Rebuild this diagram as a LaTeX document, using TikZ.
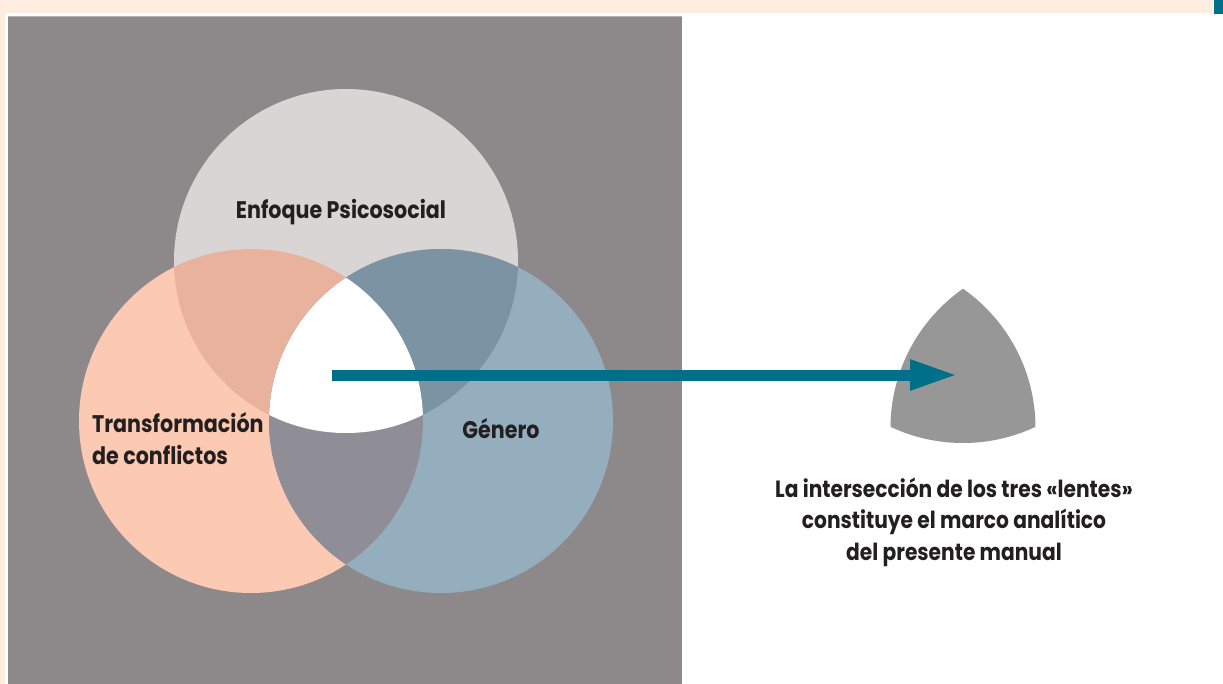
\documentclass[tikz,border=0pt]{standalone}
\usepackage{fontspec}
\setmainfont{Poppins}[FakeStretch=0.86]
\usetikzlibrary{arrows.meta}
\definecolor{bg}{HTML}{8D898A}
\definecolor{peach}{HTML}{FFEDDF}
\definecolor{tealc}{HTML}{006F8A}
\definecolor{ctop}{HTML}{D8D5D4}
\definecolor{cleft}{HTML}{FCCAB3}
\definecolor{cright}{HTML}{95AEBE}
\definecolor{ctl}{HTML}{E8B29D}
\definecolor{ctr}{HTML}{7B93A3}
\definecolor{clr}{HTML}{8F8E96}
\definecolor{shapeg}{HTML}{979797}
\definecolor{ink}{HTML}{231F20}
\begin{document}
\begin{tikzpicture}[x=1pt,y=-1pt,
  lab/.style={font=\bfseries\fontsize{24}{28}\selectfont, text=ink, inner sep=0pt},
  captxt/.style={font=\bfseries\fontsize{23.5}{28}\selectfont, text=ink, inner sep=0pt}]
\useasboundingbox (0,0) rectangle (1223,684);
% page decoration
\fill[peach] (0,0) rectangle (1214,13);
\fill[peach] (0,0) rectangle (5,684);
\fill[tealc] (1214,0) rectangle (1223,14);
\fill[bg] (8,16) rectangle (682,684);
\draw[black!30, line width=1pt] (8,16.5) -- (682,16.5);
% circle centres
\coordinate (T) at (346,261);
\coordinate (L) at (251,421);
\coordinate (R) at (441,421);
\fill[ctop] (T) circle[radius=172pt];
\fill[cleft] (L) circle[radius=172pt];
\fill[cright] (R) circle[radius=172pt];
\begin{scope}\clip (T) circle[radius=172pt]; \fill[ctl] (L) circle[radius=172pt];\end{scope}
\begin{scope}\clip (T) circle[radius=172pt]; \fill[ctr] (R) circle[radius=172pt];\end{scope}
\begin{scope}\clip (L) circle[radius=172pt]; \fill[clr] (R) circle[radius=172pt];\end{scope}
\begin{scope}\clip (T) circle[radius=172pt]; \clip (L) circle[radius=172pt]; \fill[white] (R) circle[radius=172pt];\end{scope}
% extracted intersection shape
\coordinate (T2) at (963,273);
\coordinate (L2) at (865.5,428);
\coordinate (R2) at (1060.5,428);
\begin{scope}
\clip (T2) circle[radius=170pt]; \clip (L2) circle[radius=170pt]; \fill[shapeg] (R2) circle[radius=170pt];
\end{scope}
% labels
\node[lab, anchor=base] (enf) at (341,219) {Enfoque Psicosocial};
\node[lab, anchor=base west] (tr1) at (92,432) {Transformación};
\node[lab, anchor=base west] (tr2) at (92,464) {de conflictos};
\node[lab, anchor=base] (gen) at (501,438) {Género};
\node[captxt, anchor=base] (c1) at (954,497) {La intersección de los tres «lentes»};
\node[captxt, anchor=base] (c2) at (954,528) {constituye el marco analítico};
\node[captxt, anchor=base] (c3) at (954,560) {del presente manual};
% arrow
\coordinate (src) at (332,375);
\coordinate (dst) at (958,375);
\draw[tealc, line width=11pt, -{Triangle[length=48pt,width=28pt]}] (src) -- (dst);
\end{tikzpicture}
\end{document}
